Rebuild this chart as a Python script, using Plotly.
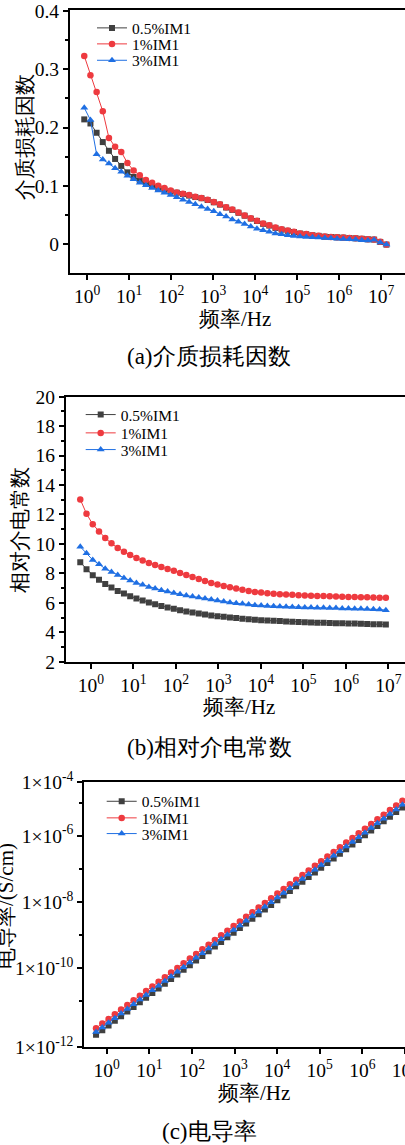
import plotly.graph_objects as go

W, H = 405, 1145

series_names = ["0.5%IM1", "1%IM1", "3%IM1"]
series_colors = ["#404040", "#ee3a3f", "#1f6fe3"]
series_symbols = ["square", "circle", "triangle-up"]
series_sizes = [6, 6.5, 7]

# ---------- (a) dielectric loss factor ----------
freq_a = [0.851, 1.194, 1.674, 2.348, 3.293, 4.618, 6.477, 9.084, 12.74, 17.87,
          25.06, 35.15, 49.29, 69.13, 96.96, 136.0, 190.7, 267.5, 375.2, 526.1,
          737.9, 1035, 1451, 2036, 2855, 4004, 5616, 7876, 11050, 15490,
          21730, 30470, 42740, 59940, 84070, 117900, 165400, 231900, 325300, 456200,
          639900, 897400, 1259000, 1765000, 2475000, 3471000, 4868000, 6828000, 9576000, 13430000]

tan_05 = [0.214, 0.207, 0.191, 0.175, 0.160, 0.146, 0.134, 0.123, 0.115, 0.109,
          0.103, 0.0995, 0.096, 0.093, 0.090, 0.088, 0.0856, 0.0830, 0.0805, 0.0785,
          0.0755, 0.0715, 0.0675, 0.0625, 0.0585, 0.0535, 0.0485, 0.0435, 0.0395, 0.0345,
          0.0315, 0.0275, 0.0245, 0.0225, 0.0205, 0.0178, 0.0165, 0.0148, 0.0138, 0.0124,
          0.0118, 0.0113, 0.0108, 0.0101, 0.0096, 0.0088, 0.0079, 0.0074, 0.0034, -0.0012]
tan_1 = [0.323, 0.290, 0.261, 0.228, 0.182, 0.167, 0.158, 0.139, 0.126, 0.118,
         0.110, 0.105, 0.100, 0.096, 0.092, 0.0885, 0.086, 0.084, 0.081, 0.079,
         0.076, 0.072, 0.068, 0.063, 0.059, 0.054, 0.049, 0.044, 0.040, 0.035,
         0.032, 0.028, 0.025, 0.023, 0.021, 0.018, 0.017, 0.015, 0.014, 0.0126,
         0.012, 0.0115, 0.011, 0.0103, 0.0098, 0.009, 0.008, 0.0075, 0.0035, -0.001]
tan_3 = [0.234, 0.213, 0.154, 0.145, 0.138, 0.130, 0.124, 0.117, 0.111, 0.105,
         0.101, 0.096, 0.092, 0.088, 0.084, 0.080, 0.076, 0.072, 0.068, 0.064,
         0.060, 0.056, 0.051, 0.047, 0.042, 0.038, 0.034, 0.030, 0.026, 0.0236,
         0.021, 0.018, 0.0167, 0.015, 0.0138, 0.0126, 0.012, 0.0115, 0.011, 0.0103,
         0.0098, 0.009, 0.0086, 0.008, 0.0075, 0.0063, 0.0057, 0.007, 0.0023, -0.001]

# ---------- (b) relative permittivity & (c) conductivity ----------
freq_bc = [0.562, 0.788, 1.105, 1.550, 2.173, 3.046, 4.270, 5.986, 8.391, 11.77,
           16.50, 23.12, 32.42, 45.45, 63.72, 89.33, 125.2, 175.6, 246.1, 345.1,
           483.8, 678.2, 951.0, 1333, 1869, 2620, 3673, 5150, 7219, 10120,
           14190, 19890, 27890, 39100, 54820, 76860, 107700, 151000, 211700, 296900,
           416200, 583400, 818000, 1147000, 1608000, 2254000, 3160000, 4430000, 6212000, 8709000]

eps_05 = [8.75, 8.28, 7.87, 7.56, 7.28, 7.04, 6.81, 6.63, 6.45, 6.29,
          6.16, 6.02, 5.91, 5.79, 5.68, 5.59, 5.50, 5.41, 5.34, 5.27,
          5.21, 5.14, 5.09, 5.05, 5.00, 4.96, 4.91, 4.89, 4.85, 4.82,
          4.80, 4.78, 4.76, 4.73, 4.71, 4.69, 4.68, 4.66, 4.65, 4.64,
          4.63, 4.62, 4.61, 4.60, 4.59, 4.57, 4.56, 4.55, 4.54, 4.53]
eps_1 = [13.02, 12.05, 11.33, 10.85, 10.40, 10.04, 9.72, 9.47, 9.25, 9.05,
         8.87, 8.71, 8.57, 8.44, 8.30, 8.17, 8.03, 7.89, 7.76, 7.62,
         7.49, 7.35, 7.24, 7.15, 7.06, 6.97, 6.88, 6.81, 6.74, 6.70,
         6.65, 6.61, 6.58, 6.56, 6.54, 6.52, 6.49, 6.48, 6.47, 6.46,
         6.45, 6.43, 6.41, 6.40, 6.39, 6.38, 6.37, 6.36, 6.35, 6.34]
eps_3 = [9.81, 9.36, 8.91, 8.62, 8.32, 8.10, 7.89, 7.69, 7.51, 7.35,
         7.22, 7.08, 6.97, 6.86, 6.77, 6.67, 6.58, 6.49, 6.43, 6.36,
         6.29, 6.22, 6.16, 6.09, 6.02, 5.97, 5.93, 5.88, 5.84, 5.82,
         5.79, 5.77, 5.75, 5.73, 5.72, 5.70, 5.69, 5.68, 5.67, 5.66,
         5.65, 5.64, 5.62, 5.61, 5.60, 5.59, 5.58, 5.57, 5.55, 5.50]

sig_05 = [9.53e-13, 1.32e-12, 1.82e-12, 2.52e-12, 3.48e-12, 4.81e-12, 6.63e-12, 9.21e-12, 1.27e-11, 1.75e-11,
          2.42e-11, 3.34e-11, 4.63e-11, 6.37e-11, 8.83e-11, 1.22e-10, 1.68e-10, 2.33e-10, 3.22e-10, 4.45e-10,
          6.14e-10, 8.46e-10, 1.17e-9, 1.62e-9, 2.24e-9, 3.09e-9, 4.27e-9, 5.90e-9, 8.14e-9, 1.13e-8,
          1.56e-8, 2.15e-8, 2.97e-8, 4.10e-8, 5.67e-8, 7.82e-8, 1.08e-7, 1.50e-7, 2.06e-7, 2.86e-7,
          3.94e-7, 5.45e-7, 7.51e-7, 1.04e-6, 1.44e-6, 1.99e-6, 2.74e-6, 3.79e-6, 5.24e-6, 7.26e-6]
sig_1 = [1.51e-12, 2.09e-12, 2.89e-12, 3.99e-12, 5.52e-12, 7.62e-12, 1.05e-11, 1.46e-11, 2.01e-11, 2.78e-11,
         3.84e-11, 5.30e-11, 7.33e-11, 1.01e-10, 1.40e-10, 1.93e-10, 2.67e-10, 3.69e-10, 5.10e-10, 7.05e-10,
         9.73e-10, 1.34e-9, 1.86e-9, 2.56e-9, 3.55e-9, 4.90e-9, 6.76e-9, 9.35e-9, 1.29e-8, 1.79e-8,
         2.47e-8, 3.41e-8, 4.71e-8, 6.50e-8, 8.99e-8, 1.24e-7, 1.71e-7, 2.37e-7, 3.27e-7, 4.53e-7,
         6.25e-7, 8.63e-7, 1.19e-6, 1.65e-6, 2.28e-6, 3.15e-6, 4.35e-6, 6.01e-6, 8.30e-6, 1.15e-5]
sig_3 = [1.15e-12, 1.59e-12, 2.19e-12, 3.03e-12, 4.19e-12, 5.78e-12, 7.97e-12, 1.11e-11, 1.53e-11, 2.11e-11,
         2.91e-11, 4.02e-11, 5.56e-11, 7.67e-11, 1.06e-10, 1.46e-10, 2.03e-10, 2.80e-10, 3.87e-10, 5.35e-10,
         7.39e-10, 1.02e-9, 1.41e-9, 1.94e-9, 2.69e-9, 3.72e-9, 5.13e-9, 7.10e-9, 9.79e-9, 1.36e-8,
         1.87e-8, 2.59e-8, 3.57e-8, 4.93e-8, 6.82e-8, 9.41e-8, 1.30e-7, 1.80e-7, 2.48e-7, 3.44e-7,
         4.74e-7, 6.55e-7, 9.03e-7, 1.25e-6, 1.73e-6, 2.39e-6, 3.30e-6, 4.56e-6, 6.30e-6, 8.73e-6]

freq_ticks = [1, 10, 100, 1000, 1e4, 1e5, 1e6, 1e7]
freq_ticktext = ["10<sup>%d</sup>" % i for i in range(8)]
sig_tickvals = [10 ** -4.38, 1e-6, 1e-8, 1e-10, 10 ** -12.39]
sig_ticktext = ["1×10<sup>-4</sup>", "1×10<sup>-6</sup>", "1×10<sup>-8</sup>",
                "1×10<sup>-10</sup>", "1×10<sup>-12</sup>"]

x_title = "频率/Hz"
y_titles = ["介质损耗因数", "相对介电常数", "电导率/(S/cm)"]
captions = ["(a)介质损耗因数", "(b)相对介电常数", "(c)电导率"]

FONT = "Liberation Serif, serif"


def py(px):
    return 1 - px / H


def pxx(px):
    return px / W


fig = go.Figure()

# legend layout per panel: text start x, row centre y's
legend_spots = [
    (133, [28.3, 44.3, 60.7]),
    (121.7, [415, 433.3, 450]),
    (142.7, [801.7, 818.3, 834]),
]

panels = [
    (freq_a, [tan_05, tan_1, tan_3], "x", "y"),
    (freq_bc, [eps_05, eps_1, eps_3], "x2", "y2"),
    (freq_bc, [sig_05, sig_1, sig_3], "x3", "y3"),
]
legends = {}
k = 0
for (fx, ys, xa, ya), (tx, rows) in zip(panels, legend_spots):
    for name, col, sym, sz, yv, ry in zip(series_names, series_colors, series_symbols,
                                          series_sizes, ys, rows):
        k += 1
        lname = "legend" if k == 1 else "legend%d" % k
        fig.add_trace(go.Scatter(
            x=fx, y=yv, name=name, mode="lines+markers",
            line=dict(color=col, width=1),
            marker=dict(color=col, symbol=sym, size=sz, line=dict(width=0)),
            xaxis=xa, yaxis=ya, legend=lname))
        legends[lname] = dict(bgcolor="rgba(0,0,0,0)", borderwidth=0,
                              xanchor="left", yanchor="middle",
                              x=pxx(tx - 41), y=py(ry),
                              font=dict(family=FONT, size=15.5, color="black"),
                              itemwidth=30)

axis_common = dict(showline=True, linecolor="black", linewidth=2, ticks="outside",
                   ticklen=5, tickwidth=1.5, tickcolor="black", showgrid=False,
                   zeroline=False, automargin=False,
                   tickfont=dict(family=FONT, size=19.5, color="black"))


def xaxis(dom_left, rng, anchor):
    return dict(axis_common, type="log", domain=[pxx(dom_left), 1], range=rng,
                tickmode="array", tickvals=freq_ticks, ticktext=freq_ticktext,
                anchor=anchor, mirror=True, ticklabeloverflow="allow")


minor_common = dict(tickmode="array", ticks="outside", ticklen=3, tickwidth=1.5,
                    tickcolor="black")

layout = dict(
    width=W, height=H, margin=dict(l=0, r=0, t=0, b=0, autoexpand=False),
    paper_bgcolor="white", plot_bgcolor="white", showlegend=True,
    font=dict(family=FONT, color="black"),
    xaxis=xaxis(70, [-0.41, 7.57], "y"),
    yaxis=dict(axis_common, domain=[py(273), py(10)], range=[-0.05, 0.402],
               tickmode="array", tickvals=[0, 0.1, 0.2, 0.3, 0.4],
               ticktext=["0", "0.1", "0.2", "0.3", "0.4"], anchor="x",
               minor=dict(minor_common, tickvals=[0.05, 0.15, 0.25, 0.35])),
    xaxis2=xaxis(66, [-0.586, 7.39], "y2"),
    yaxis2=dict(axis_common, domain=[py(661.7), py(396.7)], range=[2, 20],
                tickmode="array", tickvals=[2, 4, 6, 8, 10, 12, 14, 16, 18, 20], anchor="x2",
                minor=dict(minor_common, tickvals=[3, 5, 7, 9, 11, 13, 15, 17, 19])),
    xaxis3=xaxis(84.3, [-0.526, 7.0], "y3"),
    yaxis3=dict(axis_common, type="log", domain=[py(1047), py(782.3)], range=[-12.39, -4.38],
                tickmode="array", tickvals=sig_tickvals, ticktext=sig_ticktext, anchor="x3",
                minor=dict(minor_common, tickvals=[1e-5, 1e-7, 1e-9, 1e-11])),
)
layout.update(legends)

ann = []
# x-axis titles
for cx, cy in [(235, 319), (239, 707), (254, 1093)]:
    ann.append(dict(text=x_title, x=pxx(cx), y=py(cy), xref="paper", yref="paper",
                    showarrow=False, xanchor="center", yanchor="middle",
                    font=dict(family=FONT, size=21, color="black")))
# y-axis titles (rotated)
for t, cx, cy in zip(y_titles, [25, 20, 6], [137, 529.5, 906]):
    ann.append(dict(text=t, x=pxx(cx), y=py(cy), xref="paper", yref="paper",
                    showarrow=False, xanchor="center", yanchor="middle", textangle=-90,
                    font=dict(family=FONT, size=21, color="black")))
# captions
for t, cx, cy in zip(captions, [209, 209, 209.5], [356, 748, 1131]):
    ann.append(dict(text=t, x=pxx(cx), y=py(cy), xref="paper", yref="paper",
                    showarrow=False, xanchor="center", yanchor="middle",
                    font=dict(family=FONT, size=23, color="black")))
layout["annotations"] = ann

fig.update_layout(**layout)
fig.write_html("out.html")
